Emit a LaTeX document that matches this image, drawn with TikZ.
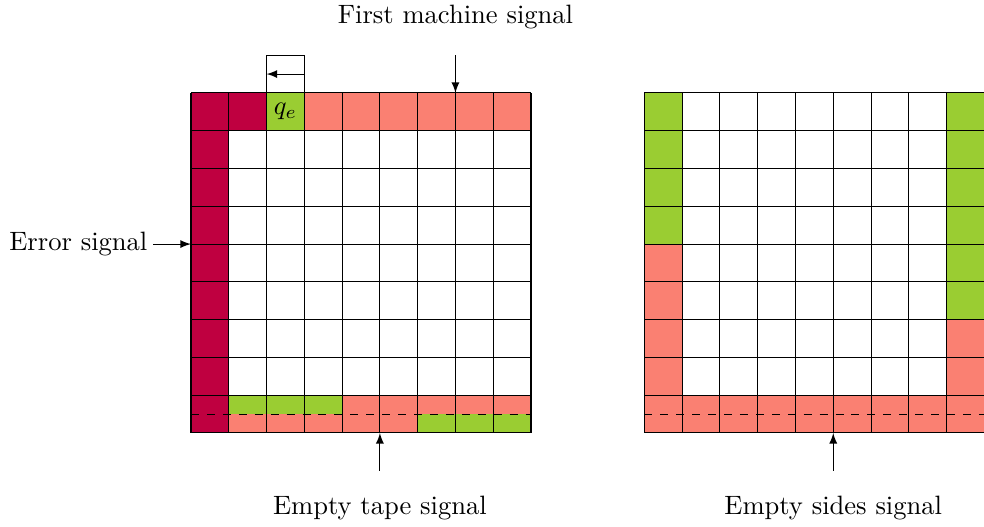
\documentclass[tikz,border=0pt]{standalone}
\usepackage[svgnames]{xcolor}
\usetikzlibrary{arrows}
\definecolor{errc}{rgb}{0.75,0,0.25}
\definecolor{salm}{RGB}{250,128,114}
\definecolor{grn}{RGB}{154,205,50}
\begin{document}
\begin{tikzpicture}[x=0.5cm,y=0.5cm,
  sig/.style={-latex, line width=0.4pt},
  lbl/.style={font=\normalsize, inner sep=2pt}]
\useasboundingbox (-5.056,-2.488) rectangle (20.99,11.46);
% ---------- left grid fills ----------
\fill[errc] (0,0) rectangle (1,9);
\fill[errc] (1,8) rectangle (2,9);
\fill[grn] (2,8) rectangle (3,9);
\fill[salm] (3,8) rectangle (9,9);
\fill[grn] (1,0.5) rectangle (4,1);
\fill[salm] (1,0) rectangle (4,0.5);
\fill[salm] (4,0) rectangle (6,1);
\fill[salm] (6,0.5) rectangle (9,1);
\fill[grn] (6,0) rectangle (9,0.5);
\draw[step=0.5cm] (0,0) grid (9,9);
\draw[dashed] (0,0.5) -- (9,0.5);
\node (qe) at (2.5,8.5) {$q_e$};
% head box
\draw (2,9) rectangle (3,10);
\coordinate (hr) at (3,9.5);
\coordinate (hl) at (2,9.5);
\draw[sig] (hr) -- (hl);
% ---------- right grid fills ----------
\fill[grn] (12,5) rectangle (13,9);
\fill[salm] (12,0) rectangle (13,5);
\fill[grn] (20,3) rectangle (21,9);
\fill[salm] (20,0) rectangle (21,3);
\fill[salm] (13,0) rectangle (20,1);
\draw[step=0.5cm] (12,0) grid (21,9);
\draw[dashed] (12,0.5) -- (21,0.5);
% ---------- labels ----------
\node[lbl] (fms) at (7,11) {First machine signal};
\coordinate (fmsA) at (7,10);
\coordinate (fmsB) at (7,9);
\draw[sig] (fmsA) -- (fmsB);
\node[lbl, anchor=east] (err) at (-1,5) {Error signal};
\coordinate (errB) at (0,5);
\draw[sig] (err.east) -- (errB);
\node[lbl] (ets) at (5,-2) {Empty tape signal};
\coordinate (etsA) at (5,-1);
\coordinate (etsB) at (5,0);
\draw[sig] (etsA) -- (etsB);
\node[lbl] (ess) at (17,-2) {Empty sides signal};
\coordinate (essA) at (17,-1);
\coordinate (essB) at (17,0);
\draw[sig] (essA) -- (essB);
\end{tikzpicture}
\end{document}
